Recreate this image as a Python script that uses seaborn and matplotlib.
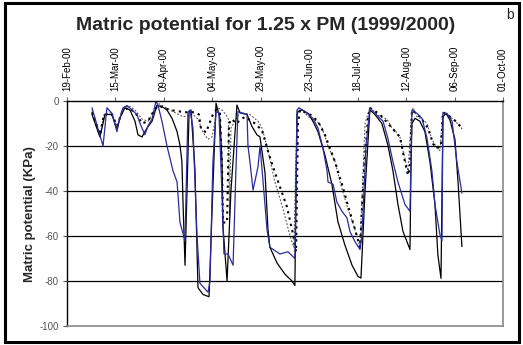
import numpy as np
import pandas as pd
import matplotlib
matplotlib.use("Agg")
import matplotlib.pyplot as plt
from matplotlib.patches import Rectangle
import seaborn as sns

# ---------------- data (days since 19-Feb-2000, matric potential kPa) ----------------
start_date = "2000-02-19"
tick_step_days = 25
n_ticks = 10

black_days = [12.9, 17.0, 19.6, 23.2, 25.8, 27.3, 29.9, 32.5, 35.1, 36.6, 38.7, 40.2, 41.8, 43.9,
              46.4, 49.0, 51.6, 54.2, 56.8, 58.3, 59.3, 59.9, 60.9, 63.0, 64.0, 66.0, 67.6, 70.2,
              73.3, 74.8, 76.9, 78.9, 80.0, 80.5, 82.6, 84.6, 87.7, 89.3, 92.9, 95.5, 98.0, 99.6,
              102.2, 103.7, 104.7, 108.4, 112.5, 116.1, 117.6, 118.2, 118.7, 119.2, 121.3, 124.4,
              126.9, 129.5, 133.1, 136.7, 139.8, 143.4, 147.1, 150.2, 151.7, 153.8, 156.3, 158.9,
              162.5, 165.6, 168.2, 170.8, 173.4, 177.0, 177.5, 178.0, 179.6, 182.1, 184.7, 187.3,
              189.9, 191.4, 193.0, 194.0, 195.6, 197.6, 200.2, 201.8, 203.8]
black_vals = [-6, -16, -6, -6, -13, -7.5, -3, -4, -9, -15, -16, -13.6, -11.4, -9,
              -2, -2.5, -4, -7.7, -13.6, -19.6, -27, -46, -73, -5, -4, -30, -83, -86,
              -87, -50, -1, -7.6, -27, -56, -80, -40, -1.8, -5.3, -6, -11.4, -15, -16,
              -32, -57, -65, -72, -77, -80, -82, -40, -6, -4.7, -4, -5.5,
              -9, -13.6, -24, -37, -53.6, -64, -73, -78, -78.7, -40, -4, -6,
              -10, -19.6, -31, -46, -58, -66, -30, -10, -7.7, -9, -13.6, -27,
              -46, -68.5, -78.8, -7, -5.5, -8.4, -17, -36, -64.7]

blue_days = [12.9, 18.6, 20.6, 23.2, 25.8, 26.3, 28.9, 31.0, 33.5, 36.1, 37.7, 40.2, 41.8, 43.9,
             45.9, 47.0, 49.0, 51.6, 54.7, 56.8, 58.3, 60.9, 62.4, 63.5, 65.0, 67.1, 68.6, 72.8,
             73.8, 75.3, 76.9, 78.4, 80.0, 81.0, 83.1, 85.7, 87.2, 88.2, 90.8, 92.9, 93.4, 94.4,
             96.0, 97.5, 98.6, 99.6, 101.1, 103.2, 104.7, 109.9, 114.0, 117.6, 118.7, 119.7,
             122.8, 126.9, 129.5, 132.1, 134.2, 134.7, 137.3, 139.3, 141.9, 144.5, 146.0, 148.6,
             151.2, 152.2, 154.3, 156.3, 158.9, 163.1, 165.6, 168.2, 170.8, 174.4, 177.0, 178.0,
             180.6, 183.2, 185.8, 188.3, 189.9, 192.5, 193.5, 194.0, 196.1, 198.7, 201.2, 203.8]
blue_vals = [-3, -20, -3, -5.5, -13.6, -10.7, -3, -2, -4, -6, -10, -15, -11, -8,
             0, -2, -9, -20, -31, -36, -54, -62, -5, -4, -12, -60, -81, -85,
             -80, -27, -5, -5, -42, -68, -68, -73, -30, -4.7, -5.5, -6, -20, -27,
             -39.6, -33.6, -29, -20, -35, -57, -65, -68, -67, -70, -4, -3,
             -4.7, -7.7, -12, -21, -31, -36, -37, -45, -49, -52, -58, -62.5,
             -66, -59.6, -20, -3, -5.5, -9, -16.6, -27, -36, -46, -49, -4,
             -5.5, -7.7, -16.6, -31, -46, -59.6, -62, -5.5, -5.5, -9, -27, -41]

thick_days = [12.9, 15.0, 17.0, 19.1, 23.2, 25.8, 28.4, 31.5, 35.1, 38.7, 41.8, 44.4, 47.0, 53.1,
              60.9, 66.0, 68.1, 69.1, 71.7, 75.3, 76.9, 78.9, 80.0, 80.5, 82.6, 83.6, 85.1, 87.2,
              91.8, 97.0, 100.6, 104.7, 107.8, 113.5, 116.6, 118.2, 119.2, 120.2, 125.4, 129.5,
              133.1, 138.3, 141.9, 145.5, 148.6, 151.2, 153.3, 155.3, 156.3, 161.5, 166.7, 171.8,
              174.4, 176.0, 177.0, 178.0, 182.1, 186.3, 188.9, 190.9, 193.0, 194.0, 197.6, 200.7,
              203.8]
thick_vals = [-5, -10, -15, -6, -6, -11, -5, -3, -5, -10, -9, -5, -2, -4,
              -5, -5, -6, -12, -14, -6, -4, -5, -30, -54, -54, -10, -8, -10,
              -7, -10, -13, -25, -33, -47, -59, -67, -10, -4, -6, -9,
              -15, -27, -37, -48, -57, -65, -30, -8, -3, -6, -11, -16,
              -27, -33, -29, -4, -7, -12, -19, -21, -20, -5, -7, -9,
              -12]

fine_days = [12.9, 15.5, 17.0, 19.1, 23.2, 25.8, 28.4, 31.5, 35.1, 38.7, 41.8, 43.9, 47.0, 53.1,
             59.9, 65.0, 67.6, 70.2, 72.8, 74.8, 76.4, 77.4, 80.0, 82.0, 83.3, 83.9, 84.6, 89.3,
             94.4, 98.6, 100.6, 103.2, 107.3, 111.5, 115.1, 117.1, 118.7, 120.2, 125.4, 129.0,
             131.6, 134.7, 138.3, 140.9, 145.0, 148.6, 151.2, 153.8, 156.3, 161.5, 165.1, 167.7,
             170.3, 171.8, 173.9, 176.0, 177.5, 178.5, 180.6, 183.2, 185.8, 188.3, 190.9, 192.5,
             194.0, 196.6, 200.2, 202.8, 204.3]
fine_vals = [-4, -12, -16, -6, -5, -12, -4, -2, -4, -8, -9, -6, -1, -4,
             -7, -6, -8, -14, -17, -16, -9, -3, -4, -6, -8, -51, -12, -5,
             -6, -9, -12, -20, -36, -48, -60, -65, -5, -3, -7.7, -9,
             -12, -20, -27, -36, -48, -57, -65, -10, -3, -7, -8, -12,
             -14, -16, -24, -31, -10, -3, -7, -8, -10, -17, -21, -22,
             -5, -6, -9, -11, -13]

y_ticks = [0, -20, -40, -60, -80, -100]

title_text = "Matric potential for 1.25 x PM (1999/2000)"
ylabel_text = "Matric potential (KPa)"
panel_letter = "b"

# ---------------- styling ----------------
sns.set_style("white")
plt.rcParams["font.family"] = ["Liberation Sans", "DejaVu Sans"]

W, H = 523, 345
fig = plt.figure(figsize=(W / 100, H / 100), dpi=100)
ax = fig.add_axes([67 / W, 1 - 326 / H, (503 - 67) / W, (326 - 101) / H])

t0 = pd.Timestamp(start_date)


def to_dates(days):
    return t0 + pd.to_timedelta(np.asarray(days, dtype=float), unit="D")


blue_col = "#2b2ba0"
sns.lineplot(x=to_dates(fine_days), y=fine_vals, ax=ax, color="#555555", lw=0.8,
             linestyle=(0, (1.6, 1.6)), sort=False, estimator=None)
sns.lineplot(x=to_dates(thick_days), y=thick_vals, ax=ax, color="black", lw=1.5,
             linestyle=(0, (1.1, 2.0)), sort=False, estimator=None)
sns.lineplot(x=to_dates(black_days), y=black_vals, ax=ax, color="black", lw=0.9,
             sort=False, estimator=None)
sns.lineplot(x=to_dates(blue_days), y=blue_vals, ax=ax, color=blue_col, lw=0.9,
             sort=False, estimator=None)

# axes limits / ticks
tick_dates = pd.date_range(t0, periods=n_ticks, freq=f"{tick_step_days}D")
ax.set_xlim(tick_dates[0], tick_dates[-1])
ax.set_ylim(-100, 0)
ax.xaxis.tick_top()
ax.set_xticks(tick_dates)
ax.set_xticklabels([d.strftime("%d-%b-%y") for d in tick_dates], rotation=90,
                   fontsize=7, color="black")
ax.tick_params(axis="x", which="both", top=True, bottom=False, direction="out",
               length=3, width=0.8, color="#666666", pad=4)
ax.set_yticks(y_ticks)
ax.set_yticklabels([str(v) for v in y_ticks], fontsize=7, color="#555555")
ax.tick_params(axis="y", left=True, direction="out", length=3, width=0.8,
               color="#555555", pad=3)
ax.set_xlabel("")
ax.set_ylabel("")

for v in y_ticks[1:-1]:
    ax.axhline(v, color="black", lw=0.9, zorder=0.5)

for side, col, lw in [("left", "black", 1.0), ("top", "black", 1.0),
                      ("right", "#888888", 1.2), ("bottom", "#888888", 1.2)]:
    ax.spines[side].set_visible(True)
    ax.spines[side].set_color(col)
    ax.spines[side].set_linewidth(lw)

# texts
fig.text(266 / W, 1 - 25 / H, title_text, ha="center", va="center",
         fontsize=14, fontweight="bold")
fig.text(30 / W, 1 - 214 / H, ylabel_text, ha="center", va="center",
         rotation=90, fontsize=9.5, fontweight="bold")
fig.text(510 / W, 1 - 15 / H, panel_letter, ha="center", va="center", fontsize=10)

# outer frame
fig.add_artist(Rectangle((5 / W, 3 / H), (519 - 5) / W, (342 - 3) / H,
                         transform=fig.transFigure, fill=False, lw=2.2,
                         edgecolor="black"))

fig.savefig("out.png", dpi=100)
